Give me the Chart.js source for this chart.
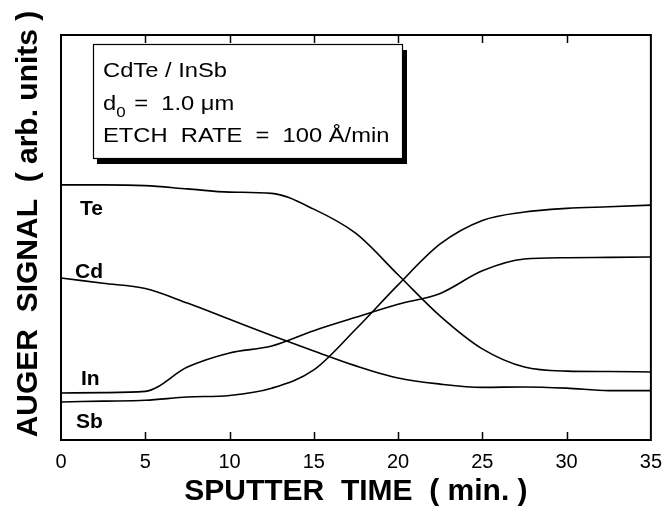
<!DOCTYPE html>
<html>
<head>
<meta charset="utf-8">
<script src="https://cdn.jsdelivr.net/npm/chart.js@4.4.0/dist/chart.umd.min.js"></script>
<style>
  html, body { margin: 0; padding: 0; background: #fff; }
</style>
</head>
<body>
<canvas id="auger" width="664" height="514"></canvas>
<script>
// sputter time (min.) and Auger signals (arb. units, 0-100)
var time   = [0, 2.5, 5, 7.5, 10, 12.5, 15, 17.5, 20, 22.5, 25, 27.5, 30, 32.5, 35];
var te     = [63.0, 63.0, 62.8, 62.0, 61.2, 60.9, 57.0, 51.0, 40.8, 30.6, 22.5, 18.0, 17.0, 16.9, 16.8];
var cd     = [40.0, 38.7, 37.4, 33.8, 29.8, 25.8, 22.0, 18.3, 15.3, 13.8, 13.0, 13.1, 12.8, 12.2, 12.2];
var inSig  = [11.6, 11.7, 12.0, 18.0, 21.5, 23.2, 27.0, 30.3, 33.5, 36.2, 41.8, 44.7, 45.0, 45.1, 45.2];
var sb     = [9.4, 9.6, 9.8, 10.6, 11.0, 12.8, 17.3, 27.4, 38.3, 48.4, 54.2, 56.3, 57.2, 57.6, 58.0];
var xTicks = [0, 5, 10, 15, 20, 25, 30, 35];

// element labels next to the curves
var labelNames  = ['Te', 'Cd', 'In', 'Sb'];
var labelTime   = [1.12, 0.83, 1.18, 0.89];
var labelSignal = [55.6, 40.0, 13.6, 3.0];

var FONT = "'Liberation Sans', Arial, Helvetica, sans-serif";

function pts(ys) {
    return time.map(function (t, i) { return { x: t, y: ys[i] }; });
}

function series(name, ys) {
    return {
        label: name,
        data: pts(ys),
        borderColor: '#000',
        borderWidth: 1.6,
        pointRadius: 0,
        fill: false,
        cubicInterpolationMode: 'monotone'
    };
}

// wide text: the original lettering is set a bit wider than Liberation Sans
function wideText(ctx, str, x, y, sx) {
    ctx.save();
    ctx.translate(x, y);
    ctx.scale(sx, 1);
    ctx.fillText(str, 0, 0);
    var w = ctx.measureText(str).width * sx;
    ctx.restore();
    return w;
}

var decorations = {
    id: 'decorations',
    afterDraw: function (chart) {
        var ctx = chart.ctx;
        var a = chart.chartArea;
        var x = chart.scales.x, y = chart.scales.y;
        ctx.save();

        // frame
        ctx.strokeStyle = '#000';
        ctx.lineWidth = 2;
        ctx.strokeRect(a.left, a.top, a.right - a.left, a.bottom - a.top);

        // inward ticks on top and bottom
        ctx.lineWidth = 1.5;
        xTicks.forEach(function (v) {
            if (v === xTicks[0] || v === xTicks[xTicks.length - 1]) return;
            var px = Math.round(x.getPixelForValue(v)) + 0.5;
            ctx.beginPath();
            ctx.moveTo(px, a.bottom); ctx.lineTo(px, a.bottom - 8);
            ctx.moveTo(px, a.top); ctx.lineTo(px, a.top + 8);
            ctx.stroke();
        });

        // info box with shadow
        var bx = a.left + 32, by = a.top + 9, bw = 309, bh = 114;
        ctx.fillStyle = '#000';
        ctx.fillRect(bx + 4, by + 6, bw + 1, bh);
        ctx.fillStyle = '#fff';
        ctx.fillRect(bx, by, bw, bh);
        ctx.lineWidth = 1.2;
        ctx.strokeRect(bx + 0.5, by + 0.5, bw, bh);

        ctx.fillStyle = '#000';
        ctx.textAlign = 'left';
        ctx.textBaseline = 'alphabetic';
        var sx = 1.13;
        var tx = bx + 10;
        ctx.font = '21px ' + FONT;
        wideText(ctx, 'CdTe / InSb', tx, by + 33, sx);
        var dw = wideText(ctx, 'd', tx, by + 66, sx);
        ctx.font = '15px ' + FONT;
        var zw = wideText(ctx, '0', tx + dw, by + 73, sx);
        ctx.font = '21px ' + FONT;
        wideText(ctx, ' =  1.0 \u03bcm', tx + dw + zw + 2, by + 66, sx);
        wideText(ctx, 'ETCH  RATE  =  100 \u00c5/min', tx, by + 98, sx);

        // element labels
        ctx.font = 'bold 21px ' + FONT;
        labelNames.forEach(function (n, i) {
            ctx.fillText(n, x.getPixelForValue(labelTime[i]), y.getPixelForValue(labelSignal[i]));
        });

        // y axis title
        ctx.translate(37, 224);
        ctx.rotate(-Math.PI / 2);
        ctx.textAlign = 'center';
        ctx.textBaseline = 'alphabetic';
        ctx.font = 'bold 30px ' + FONT;
        ctx.fillText('AUGER  SIGNAL  ( arb. units )', 0, 0);
        ctx.restore();
    }
};

new Chart(document.getElementById('auger').getContext('2d'), {
    type: 'line',
    data: {
        datasets: [
            series('Te', te),
            series('Cd', cd),
            series('In', inSig),
            series('Sb', sb)
        ]
    },
    options: {
        responsive: false,
        animation: false,
        devicePixelRatio: 1,
        layout: { padding: { top: 35, right: 10, left: 0, bottom: 0 } },
        plugins: { legend: { display: false }, tooltip: { enabled: false } },
        scales: {
            x: {
                type: 'linear',
                min: 0,
                max: 35,
                grid: { display: false },
                border: { display: false },
                ticks: {
                    stepSize: 5,
                    color: '#000',
                    padding: 2,
                    maxRotation: 0,
                    font: { family: FONT, size: 20 }
                },
                title: {
                    display: true,
                    text: 'SPUTTER  TIME  ( min. )',
                    color: '#000',
                    font: { family: FONT, size: 30, weight: 'bold' },
                    padding: { top: 0, bottom: 4 }
                },
                afterFit: function (s) { s.height = 74; }
            },
            y: {
                min: 0,
                max: 100,
                grid: { display: false },
                border: { display: false },
                ticks: { display: false },
                afterFit: function (s) { s.width = 61; }
            }
        }
    },
    plugins: [decorations]
});
</script>
</body>
</html>
